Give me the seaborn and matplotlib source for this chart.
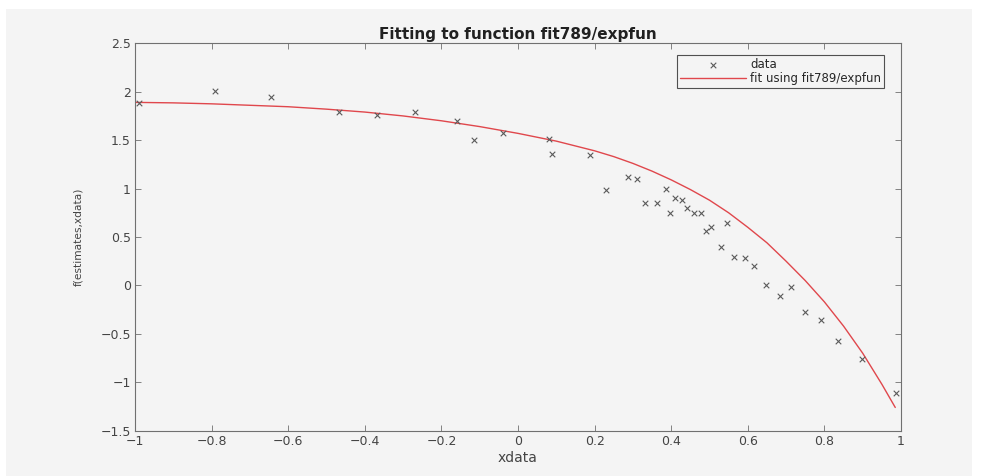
import numpy as np
import pandas as pd
import matplotlib
matplotlib.use("Agg")
import matplotlib.pyplot as plt
from matplotlib.patches import Rectangle
from matplotlib.ticker import FuncFormatter
import seaborn as sns

# data points
xdata = [-0.99, -0.79, -0.645, -0.467, -0.369, -0.27, -0.16, -0.115, -0.04, 0.08,
         0.09, 0.188, 0.231, 0.286, 0.312, 0.332, 0.362, 0.386, 0.397, 0.41,
         0.427, 0.442, 0.46, 0.478, 0.49, 0.505, 0.53, 0.545, 0.564, 0.593,
         0.616, 0.647, 0.683, 0.713, 0.749, 0.79, 0.836, 0.898, 0.987]
ydata = [1.88, 2.01, 1.95, 1.79, 1.76, 1.79, 1.70, 1.50, 1.57, 1.51,
         1.36, 1.35, 0.99, 1.12, 1.10, 0.855, 0.855, 0.995, 0.75, 0.90,
         0.88, 0.80, 0.745, 0.745, 0.56, 0.60, 0.40, 0.64, 0.29, 0.28,
         0.20, 0.0, -0.11, -0.02, -0.27, -0.36, -0.57, -0.76, -1.11]

# fitted curve
fit_x = [-1.0, -0.9, -0.8, -0.7, -0.6, -0.5, -0.4, -0.3, -0.2, -0.1,
         0.0, 0.05, 0.1, 0.15, 0.2, 0.25, 0.3, 0.35, 0.4, 0.45,
         0.5, 0.55, 0.6, 0.65, 0.7, 0.75, 0.8, 0.85, 0.9, 0.95, 0.985]
fit_y = [1.89, 1.885, 1.875, 1.86, 1.845, 1.82, 1.79, 1.75, 1.70, 1.64,
         1.57, 1.53, 1.49, 1.44, 1.39, 1.33, 1.26, 1.18, 1.09, 0.99,
         0.88, 0.75, 0.60, 0.44, 0.25, 0.05, -0.17, -0.42, -0.70, -1.02, -1.26]

xticks = [-1, -0.8, -0.6, -0.4, -0.2, 0, 0.2, 0.4, 0.6, 0.8, 1]
yticks = [-1.5, -1, -0.5, 0, 0.5, 1, 1.5, 2, 2.5]

df_data = pd.DataFrame({"x": xdata, "y": ydata})
df_fit = pd.DataFrame({"x": fit_x, "y": fit_y})

sns.set_style("ticks")
plt.rcParams['font.family'] = ['DejaVu Sans']

bg = "#f4f4f4"
txt = "#444444"
fig = plt.figure(figsize=(9.82, 4.76), dpi=100, facecolor="white")
fig.patches.append(Rectangle((6 / 982, 0), 966 / 982, 1 - 9 / 476,
                             transform=fig.transFigure, facecolor=bg,
                             edgecolor="none", zorder=-10))

ax = fig.add_axes([135 / 982, 1 - 430.7 / 476, 766 / 982, 387.4 / 476])
ax.set_facecolor(bg)

sns.scatterplot(data=df_data, x="x", y="y", marker="x", s=16, color="#5a5a5a",
                linewidth=0.8, label="data", ax=ax, zorder=3)
sns.lineplot(data=df_fit, x="x", y="y", color="#e0474c", linewidth=1.0,
             label="fit using fit789/expfun", ax=ax, zorder=2)

ax.set_xlim(-1, 1)
ax.set_ylim(-1.5, 2.5)
ax.set_xticks(xticks)
ax.set_yticks(yticks)
fmt = FuncFormatter(lambda v, p: ("%g" % v).replace("-", "\u2212"))
ax.xaxis.set_major_formatter(fmt)
ax.yaxis.set_major_formatter(fmt)

for s in ax.spines.values():
    s.set_visible(True)
    s.set_color("#707070")
    s.set_linewidth(0.8)
ax.tick_params(direction="in", length=4, width=0.6, color="#707070",
               labelsize=9, labelcolor=txt, top=True, right=True, pad=3)

ax.set_xlabel("xdata", fontsize=10, color=txt, labelpad=2)
ax.set_ylabel("f(estimates,xdata)", fontsize=7.7, color=txt, labelpad=12)
ax.set_title("Fitting to function fit789/expfun", fontsize=11, fontweight="bold",
             color="#202020", pad=3)

leg = ax.legend(loc="upper right", bbox_to_anchor=(1 - 17 / 766, 1 - 12 / 387.4),
                fontsize=8.5, frameon=True, fancybox=False, handlelength=5.6,
                borderpad=0.25, labelspacing=0.05, handletextpad=0.35,
                borderaxespad=0)
leg.get_frame().set_edgecolor("#505050")
leg.get_frame().set_facecolor(bg)
leg.get_frame().set_linewidth(0.8)
leg.get_frame().set_alpha(1)

fig.savefig("out.png", dpi=100, facecolor=fig.get_facecolor())
